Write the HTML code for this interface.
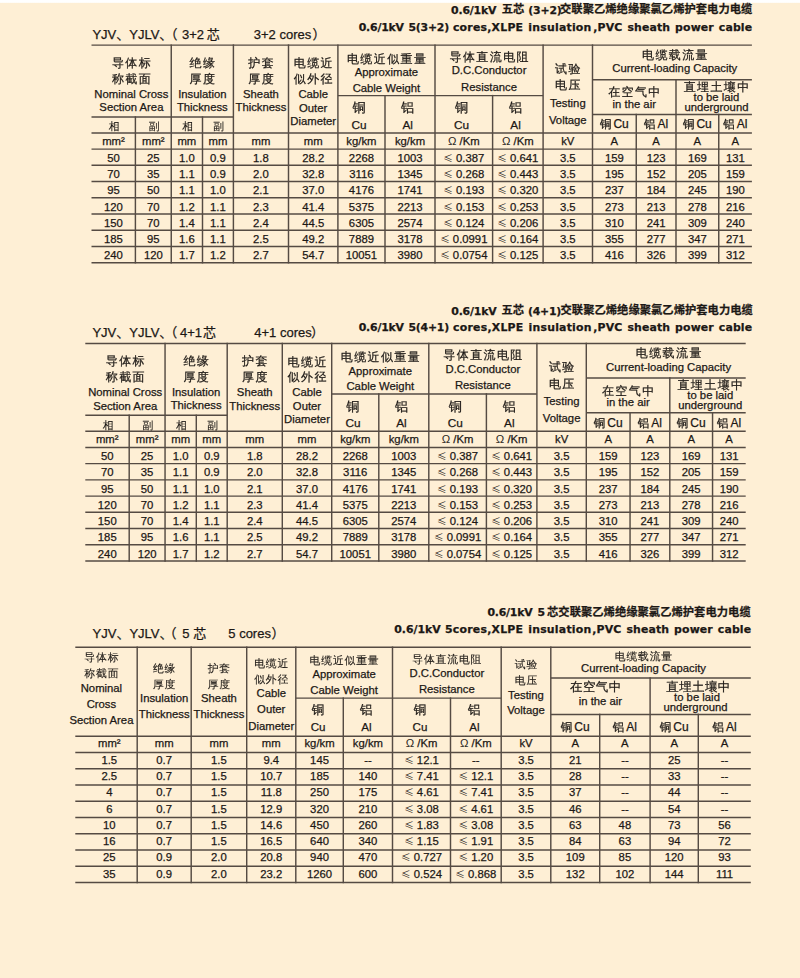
<!DOCTYPE html><html><head><meta charset="utf-8"><style>
html,body{margin:0;padding:0;}
body{width:800px;height:978px;position:relative;overflow:hidden;background:#FEEFD5;}
.top{position:absolute;left:0;top:0;width:800px;height:3px;background:linear-gradient(#fff 0,#fff 2.4px,#FEEFD5 3px);}
.t{position:absolute;line-height:0;white-space:nowrap;color:#1c1815;font-family:'Liberation Sans','Noto Sans CJK SC',sans-serif;-webkit-text-stroke:0.25px #1c1815;}
.c{text-align:center;width:300px;}
.r{text-align:right;width:600px;}
.le{font-family:'Noto Sans CJK SC',sans-serif;font-size:0.85em;-webkit-text-stroke:0;}
svg{position:absolute;left:0;top:0;}
.om{-webkit-text-stroke:0;color:#2a2622;}
.wq{font-family:'Liberation Sans','WenQuanYi Zen Hei',sans-serif;font-size:0.96em;}
</style></head><body><div class="top"></div>
<svg width="800" height="978" viewBox="0 0 800 978">
<g stroke="#554b43" stroke-width="1.45" fill="none">
<line x1="91.50" y1="45.10" x2="751.90" y2="45.10"/>
<line x1="91.50" y1="117.00" x2="233.40" y2="117.00"/>
<line x1="91.50" y1="132.90" x2="751.90" y2="132.90"/>
<line x1="337.90" y1="95.60" x2="543.10" y2="95.60"/>
<line x1="592.50" y1="79.75" x2="751.90" y2="79.75"/>
<line x1="592.50" y1="114.40" x2="751.90" y2="114.40"/>
<line x1="91.50" y1="149.10" x2="751.90" y2="149.10"/>
<line x1="91.50" y1="165.33" x2="751.90" y2="165.33"/>
<line x1="91.50" y1="181.57" x2="751.90" y2="181.57"/>
<line x1="91.50" y1="197.81" x2="751.90" y2="197.81"/>
<line x1="91.50" y1="214.04" x2="751.90" y2="214.04"/>
<line x1="91.50" y1="230.27" x2="751.90" y2="230.27"/>
<line x1="91.50" y1="246.51" x2="751.90" y2="246.51"/>
<line x1="91.50" y1="262.75" x2="751.90" y2="262.75"/>
<line x1="85.30" y1="343.40" x2="745.70" y2="343.40"/>
<line x1="85.30" y1="415.30" x2="227.20" y2="415.30"/>
<line x1="85.30" y1="431.20" x2="745.70" y2="431.20"/>
<line x1="331.70" y1="393.90" x2="536.90" y2="393.90"/>
<line x1="586.30" y1="378.05" x2="745.70" y2="378.05"/>
<line x1="586.30" y1="412.70" x2="745.70" y2="412.70"/>
<line x1="85.30" y1="447.40" x2="745.70" y2="447.40"/>
<line x1="85.30" y1="463.63" x2="745.70" y2="463.63"/>
<line x1="85.30" y1="479.87" x2="745.70" y2="479.87"/>
<line x1="85.30" y1="496.10" x2="745.70" y2="496.10"/>
<line x1="85.30" y1="512.34" x2="745.70" y2="512.34"/>
<line x1="85.30" y1="528.57" x2="745.70" y2="528.57"/>
<line x1="85.30" y1="544.81" x2="745.70" y2="544.81"/>
<line x1="85.30" y1="561.04" x2="745.70" y2="561.04"/>
<line x1="75.30" y1="647.20" x2="750.80" y2="647.20"/>
<line x1="75.30" y1="736.30" x2="750.80" y2="736.30"/>
<line x1="295.80" y1="698.10" x2="501.20" y2="698.10"/>
<line x1="550.80" y1="677.90" x2="750.80" y2="677.90"/>
<line x1="550.80" y1="714.40" x2="750.80" y2="714.40"/>
<line x1="75.30" y1="752.50" x2="750.80" y2="752.50"/>
<line x1="75.30" y1="768.75" x2="750.80" y2="768.75"/>
<line x1="75.30" y1="785.00" x2="750.80" y2="785.00"/>
<line x1="75.30" y1="801.25" x2="750.80" y2="801.25"/>
<line x1="75.30" y1="817.50" x2="750.80" y2="817.50"/>
<line x1="75.30" y1="833.75" x2="750.80" y2="833.75"/>
<line x1="75.30" y1="850.00" x2="750.80" y2="850.00"/>
<line x1="75.30" y1="866.25" x2="750.80" y2="866.25"/>
<line x1="75.30" y1="882.50" x2="750.80" y2="882.50"/>
<line x1="171.25" y1="44.38" x2="171.25" y2="263.47"/>
<line x1="135.40" y1="116.28" x2="135.40" y2="263.47"/>
<line x1="233.40" y1="44.38" x2="233.40" y2="263.47"/>
<line x1="202.50" y1="116.28" x2="202.50" y2="263.47"/>
<line x1="288.50" y1="44.38" x2="288.50" y2="263.47"/>
<line x1="337.90" y1="44.38" x2="337.90" y2="263.47"/>
<line x1="435.00" y1="44.38" x2="435.00" y2="263.47"/>
<line x1="385.00" y1="94.88" x2="385.00" y2="263.47"/>
<line x1="543.10" y1="44.38" x2="543.10" y2="263.47"/>
<line x1="492.60" y1="94.88" x2="492.60" y2="263.47"/>
<line x1="592.50" y1="44.38" x2="592.50" y2="263.47"/>
<line x1="676.00" y1="79.03" x2="676.00" y2="263.47"/>
<line x1="636.25" y1="113.68" x2="636.25" y2="263.47"/>
<line x1="718.75" y1="113.68" x2="718.75" y2="263.47"/>
<line x1="165.05" y1="342.68" x2="165.05" y2="561.77"/>
<line x1="129.20" y1="414.57" x2="129.20" y2="561.77"/>
<line x1="227.20" y1="342.68" x2="227.20" y2="561.77"/>
<line x1="196.30" y1="414.57" x2="196.30" y2="561.77"/>
<line x1="282.30" y1="342.68" x2="282.30" y2="561.77"/>
<line x1="331.70" y1="342.68" x2="331.70" y2="561.77"/>
<line x1="428.80" y1="342.68" x2="428.80" y2="561.77"/>
<line x1="378.80" y1="393.17" x2="378.80" y2="561.77"/>
<line x1="536.90" y1="342.68" x2="536.90" y2="561.77"/>
<line x1="486.40" y1="393.17" x2="486.40" y2="561.77"/>
<line x1="586.30" y1="342.68" x2="586.30" y2="561.77"/>
<line x1="669.80" y1="377.32" x2="669.80" y2="561.77"/>
<line x1="630.05" y1="411.98" x2="630.05" y2="561.77"/>
<line x1="712.55" y1="411.98" x2="712.55" y2="561.77"/>
<line x1="137.20" y1="646.48" x2="137.20" y2="883.23"/>
<line x1="191.20" y1="646.48" x2="191.20" y2="883.23"/>
<line x1="246.70" y1="646.48" x2="246.70" y2="883.23"/>
<line x1="295.80" y1="646.48" x2="295.80" y2="883.23"/>
<line x1="392.50" y1="646.48" x2="392.50" y2="883.23"/>
<line x1="343.30" y1="697.38" x2="343.30" y2="883.23"/>
<line x1="501.20" y1="646.48" x2="501.20" y2="883.23"/>
<line x1="450.50" y1="697.38" x2="450.50" y2="883.23"/>
<line x1="550.80" y1="646.48" x2="550.80" y2="883.23"/>
<line x1="650.10" y1="677.17" x2="650.10" y2="883.23"/>
<line x1="599.70" y1="713.67" x2="599.70" y2="883.23"/>
<line x1="698.30" y1="713.67" x2="698.30" y2="883.23"/>
</g></svg>
<div class="t" style="left:451.10px;top:10.52px;font-size:10.9px;font-weight:bold;font-family:'DejaVu Sans','Noto Sans CJK SC',sans-serif;word-spacing:1px;letter-spacing:-0.2px">0.6/1kV</div>
<div class="t" style="left:501.70px;top:10.38px;font-size:11.3px;font-weight:bold;font-family:'DejaVu Sans','Noto Sans CJK SC',sans-serif;word-spacing:1px;letter-spacing:0.02px">五芯</div>
<div class="t" style="left:528.30px;top:10.52px;font-size:10.9px;font-weight:bold;font-family:'DejaVu Sans','Noto Sans CJK SC',sans-serif;word-spacing:1px;letter-spacing:-0.2px">(3+2)</div>
<div class="t" style="left:560.00px;top:10.38px;font-size:11.3px;font-weight:bold;font-family:'DejaVu Sans','Noto Sans CJK SC',sans-serif;word-spacing:1px;letter-spacing:0.02px">交联聚乙烯绝缘聚氯乙烯护套电力电缆</div>
<div class="t" style="left:358.70px;top:28.02px;font-size:10.9px;font-weight:bold;font-family:'DejaVu Sans','Noto Sans CJK SC',sans-serif;word-spacing:1px;letter-spacing:-0.20px">0.6/1kV 5(3+2)</div>
<div class="t" style="left:452.90px;top:28.02px;font-size:10.9px;font-weight:bold;font-family:'DejaVu Sans','Noto Sans CJK SC',sans-serif;word-spacing:1px;letter-spacing:0.23px">cores,XLPE insulation</div>
<div class="t r" style="left:152.24px;top:28.02px;font-size:10.9px;font-weight:bold;font-family:'DejaVu Sans','Noto Sans CJK SC',sans-serif;word-spacing:1px;letter-spacing:0.14px">,PVC sheath power cable</div>
<div class="t" style="left:92.40px;top:35.35px;font-size:13px;">YJV、YJLV、</div>
<div class="t" style="left:164.50px;top:35.35px;font-size:13px;">（</div>
<div class="t" style="left:182.00px;top:35.35px;font-size:13px;">3+2</div>
<div class="t" style="left:206.80px;top:35.35px;font-size:13px;">芯</div>
<div class="t" style="left:253.80px;top:35.35px;font-size:13px;">3+2 cores</div>
<div class="t" style="left:312.50px;top:35.35px;font-size:13px;">）</div>
<div class="t c" style="left:-17.93px;top:62.92px;font-size:12.0px;font-family:'Liberation Sans','WenQuanYi Zen Hei',sans-serif;-webkit-text-stroke-width:0.22px;letter-spacing:1.40px;">导体标</div>
<div class="t c" style="left:-17.93px;top:78.82px;font-size:12.0px;font-family:'Liberation Sans','WenQuanYi Zen Hei',sans-serif;-webkit-text-stroke-width:0.22px;letter-spacing:1.40px;">称截面</div>
<div class="t c" style="left:-18.62px;top:93.88px;font-size:11.3px;">Nominal Cross</div>
<div class="t c" style="left:-18.62px;top:107.38px;font-size:11.3px;">Section Area</div>
<div class="t c" style="left:53.02px;top:62.92px;font-size:12.0px;font-family:'Liberation Sans','WenQuanYi Zen Hei',sans-serif;-webkit-text-stroke-width:0.22px;letter-spacing:1.40px;">绝缘</div>
<div class="t c" style="left:53.02px;top:78.82px;font-size:12.0px;font-family:'Liberation Sans','WenQuanYi Zen Hei',sans-serif;-webkit-text-stroke-width:0.22px;letter-spacing:1.40px;">厚度</div>
<div class="t c" style="left:52.32px;top:93.98px;font-size:11.3px;">Insulation</div>
<div class="t c" style="left:52.32px;top:107.18px;font-size:11.3px;">Thickness</div>
<div class="t c" style="left:111.65px;top:62.92px;font-size:12.0px;font-family:'Liberation Sans','WenQuanYi Zen Hei',sans-serif;-webkit-text-stroke-width:0.22px;letter-spacing:1.40px;">护套</div>
<div class="t c" style="left:111.65px;top:78.82px;font-size:12.0px;font-family:'Liberation Sans','WenQuanYi Zen Hei',sans-serif;-webkit-text-stroke-width:0.22px;letter-spacing:1.40px;">厚度</div>
<div class="t c" style="left:110.95px;top:93.98px;font-size:11.3px;">Sheath</div>
<div class="t c" style="left:110.95px;top:107.28px;font-size:11.3px;">Thickness</div>
<div class="t c" style="left:163.90px;top:63.42px;font-size:12.0px;font-family:'Liberation Sans','WenQuanYi Zen Hei',sans-serif;-webkit-text-stroke-width:0.22px;letter-spacing:1.40px;">电缆近</div>
<div class="t c" style="left:163.90px;top:78.92px;font-size:12.0px;font-family:'Liberation Sans','WenQuanYi Zen Hei',sans-serif;-webkit-text-stroke-width:0.22px;letter-spacing:1.40px;">似外径</div>
<div class="t c" style="left:163.20px;top:94.08px;font-size:11.3px;">Cable</div>
<div class="t c" style="left:163.20px;top:107.58px;font-size:11.3px;">Outer</div>
<div class="t c" style="left:163.20px;top:120.88px;font-size:11.3px;">Diameter</div>
<div class="t c" style="left:237.15px;top:58.92px;font-size:12.0px;font-family:'Liberation Sans','WenQuanYi Zen Hei',sans-serif;-webkit-text-stroke-width:0.22px;letter-spacing:1.40px;">电缆近似重量</div>
<div class="t c" style="left:236.45px;top:72.38px;font-size:11.3px;">Approximate</div>
<div class="t c" style="left:236.45px;top:88.08px;font-size:11.3px;">Cable Weight</div>
<div class="t c" style="left:339.75px;top:56.72px;font-size:12.0px;font-family:'Liberation Sans','WenQuanYi Zen Hei',sans-serif;-webkit-text-stroke-width:0.22px;letter-spacing:1.40px;">导体直流电阻</div>
<div class="t c" style="left:339.05px;top:70.48px;font-size:11.3px;">D.C.Conductor</div>
<div class="t c" style="left:339.05px;top:86.68px;font-size:11.3px;">Resistance</div>
<div class="t c" style="left:209.15px;top:108.31px;font-size:13.2px;font-family:'Liberation Sans','WenQuanYi Zen Hei',sans-serif;-webkit-text-stroke-width:0.22px;letter-spacing:0.00px;">铜</div>
<div class="t c" style="left:209.15px;top:124.51px;font-size:11.8px;">Cu</div>
<div class="t c" style="left:257.70px;top:108.31px;font-size:13.2px;font-family:'Liberation Sans','WenQuanYi Zen Hei',sans-serif;-webkit-text-stroke-width:0.22px;letter-spacing:0.00px;">铝</div>
<div class="t c" style="left:257.70px;top:124.51px;font-size:11.8px;">Al</div>
<div class="t c" style="left:311.50px;top:108.31px;font-size:13.2px;font-family:'Liberation Sans','WenQuanYi Zen Hei',sans-serif;-webkit-text-stroke-width:0.22px;letter-spacing:0.00px;">铜</div>
<div class="t c" style="left:311.50px;top:124.51px;font-size:11.8px;">Cu</div>
<div class="t c" style="left:365.55px;top:108.31px;font-size:13.2px;font-family:'Liberation Sans','WenQuanYi Zen Hei',sans-serif;-webkit-text-stroke-width:0.22px;letter-spacing:0.00px;">铝</div>
<div class="t c" style="left:365.55px;top:124.51px;font-size:11.8px;">Al</div>
<div class="t c" style="left:418.50px;top:68.92px;font-size:12.0px;font-family:'Liberation Sans','WenQuanYi Zen Hei',sans-serif;-webkit-text-stroke-width:0.22px;letter-spacing:1.40px;">试验</div>
<div class="t c" style="left:418.50px;top:85.32px;font-size:12.0px;font-family:'Liberation Sans','WenQuanYi Zen Hei',sans-serif;-webkit-text-stroke-width:0.22px;letter-spacing:1.40px;">电压</div>
<div class="t c" style="left:417.80px;top:103.08px;font-size:11.3px;">Testing</div>
<div class="t c" style="left:417.80px;top:119.88px;font-size:11.3px;">Voltage</div>
<div class="t c" style="left:525.50px;top:55.12px;font-size:12.0px;font-family:'Liberation Sans','WenQuanYi Zen Hei',sans-serif;-webkit-text-stroke-width:0.22px;letter-spacing:1.40px;">电缆载流量</div>
<div class="t c" style="left:524.80px;top:68.38px;font-size:11.3px;">Current-loading Capacity</div>
<div class="t c" style="left:484.95px;top:92.22px;font-size:12.0px;font-family:'Liberation Sans','WenQuanYi Zen Hei',sans-serif;-webkit-text-stroke-width:0.22px;letter-spacing:1.40px;">在空气中</div>
<div class="t c" style="left:484.25px;top:103.58px;font-size:11.3px;">in the air</div>
<div class="t c" style="left:567.15px;top:86.52px;font-size:12.0px;font-family:'Liberation Sans','WenQuanYi Zen Hei',sans-serif;-webkit-text-stroke-width:0.22px;letter-spacing:1.40px;">直埋土壤中</div>
<div class="t c" style="left:566.45px;top:96.68px;font-size:11.3px;">to be laid</div>
<div class="t c" style="left:566.45px;top:106.88px;font-size:11.3px;">underground</div>
<div class="t c" style="left:464.38px;top:124.24px;font-size:12px;"><span class="wq">铜</span><span style="margin-left:2px">Cu</span></div>
<div class="t c" style="left:506.12px;top:124.24px;font-size:12px;"><span class="wq">铝</span><span style="margin-left:2px">Al</span></div>
<div class="t c" style="left:547.38px;top:124.24px;font-size:12px;"><span class="wq">铜</span><span style="margin-left:2px">Cu</span></div>
<div class="t c" style="left:585.33px;top:124.24px;font-size:12px;"><span class="wq">铝</span><span style="margin-left:2px">Al</span></div>
<div class="t c" style="left:-35.75px;top:126.46px;font-size:10.8px;font-family:'Liberation Sans','WenQuanYi Zen Hei',sans-serif;-webkit-text-stroke:0.1px">相</div>
<div class="t c" style="left:4.12px;top:126.46px;font-size:10.8px;font-family:'Liberation Sans','WenQuanYi Zen Hei',sans-serif;-webkit-text-stroke:0.1px">副</div>
<div class="t c" style="left:37.68px;top:126.46px;font-size:10.8px;font-family:'Liberation Sans','WenQuanYi Zen Hei',sans-serif;-webkit-text-stroke:0.1px">相</div>
<div class="t c" style="left:68.75px;top:126.46px;font-size:10.8px;font-family:'Liberation Sans','WenQuanYi Zen Hei',sans-serif;-webkit-text-stroke:0.1px">副</div>
<div class="t c" style="left:-36.55px;top:140.78px;font-size:11.3px;">mm²</div>
<div class="t c" style="left:3.32px;top:140.78px;font-size:11.3px;">mm²</div>
<div class="t c" style="left:36.88px;top:140.78px;font-size:11.3px;">mm</div>
<div class="t c" style="left:67.95px;top:140.78px;font-size:11.3px;">mm</div>
<div class="t c" style="left:110.95px;top:140.78px;font-size:11.3px;">mm</div>
<div class="t c" style="left:163.20px;top:140.78px;font-size:11.3px;">mm</div>
<div class="t c" style="left:211.45px;top:140.78px;font-size:11.3px;">kg/km</div>
<div class="t c" style="left:260.00px;top:140.78px;font-size:11.3px;">kg/km</div>
<div class="t c" style="left:313.80px;top:140.78px;font-size:11.3px;"><span class="om">Ω</span> /Km</div>
<div class="t c" style="left:367.85px;top:140.78px;font-size:11.3px;"><span class="om">Ω</span> /Km</div>
<div class="t c" style="left:417.80px;top:140.78px;font-size:11.3px;">kV</div>
<div class="t c" style="left:464.38px;top:140.78px;font-size:11.3px;">A</div>
<div class="t c" style="left:506.12px;top:140.78px;font-size:11.3px;">A</div>
<div class="t c" style="left:547.38px;top:140.78px;font-size:11.3px;">A</div>
<div class="t c" style="left:585.33px;top:140.78px;font-size:11.3px;">A</div>
<div class="t c" style="left:-36.55px;top:157.88px;font-size:11.3px;">50</div>
<div class="t c" style="left:3.32px;top:157.88px;font-size:11.3px;">25</div>
<div class="t c" style="left:36.88px;top:157.88px;font-size:11.3px;">1.0</div>
<div class="t c" style="left:67.95px;top:157.88px;font-size:11.3px;">0.9</div>
<div class="t c" style="left:110.95px;top:157.88px;font-size:11.3px;">1.8</div>
<div class="t c" style="left:163.20px;top:157.88px;font-size:11.3px;">28.2</div>
<div class="t c" style="left:211.45px;top:157.88px;font-size:11.3px;">2268</div>
<div class="t c" style="left:260.00px;top:157.88px;font-size:11.3px;">1003</div>
<div class="t c" style="left:313.80px;top:157.88px;font-size:11.3px;"><span class="le">≤</span> 0.387</div>
<div class="t c" style="left:367.85px;top:157.88px;font-size:11.3px;"><span class="le">≤</span> 0.641</div>
<div class="t c" style="left:417.80px;top:157.88px;font-size:11.3px;">3.5</div>
<div class="t c" style="left:464.38px;top:157.88px;font-size:11.3px;">159</div>
<div class="t c" style="left:506.12px;top:157.88px;font-size:11.3px;">123</div>
<div class="t c" style="left:547.38px;top:157.88px;font-size:11.3px;">169</div>
<div class="t c" style="left:585.33px;top:157.88px;font-size:11.3px;">131</div>
<div class="t c" style="left:-36.55px;top:174.12px;font-size:11.3px;">70</div>
<div class="t c" style="left:3.32px;top:174.12px;font-size:11.3px;">35</div>
<div class="t c" style="left:36.88px;top:174.12px;font-size:11.3px;">1.1</div>
<div class="t c" style="left:67.95px;top:174.12px;font-size:11.3px;">0.9</div>
<div class="t c" style="left:110.95px;top:174.12px;font-size:11.3px;">2.0</div>
<div class="t c" style="left:163.20px;top:174.12px;font-size:11.3px;">32.8</div>
<div class="t c" style="left:211.45px;top:174.12px;font-size:11.3px;">3116</div>
<div class="t c" style="left:260.00px;top:174.12px;font-size:11.3px;">1345</div>
<div class="t c" style="left:313.80px;top:174.12px;font-size:11.3px;"><span class="le">≤</span> 0.268</div>
<div class="t c" style="left:367.85px;top:174.12px;font-size:11.3px;"><span class="le">≤</span> 0.443</div>
<div class="t c" style="left:417.80px;top:174.12px;font-size:11.3px;">3.5</div>
<div class="t c" style="left:464.38px;top:174.12px;font-size:11.3px;">195</div>
<div class="t c" style="left:506.12px;top:174.12px;font-size:11.3px;">152</div>
<div class="t c" style="left:547.38px;top:174.12px;font-size:11.3px;">205</div>
<div class="t c" style="left:585.33px;top:174.12px;font-size:11.3px;">159</div>
<div class="t c" style="left:-36.55px;top:190.35px;font-size:11.3px;">95</div>
<div class="t c" style="left:3.32px;top:190.35px;font-size:11.3px;">50</div>
<div class="t c" style="left:36.88px;top:190.35px;font-size:11.3px;">1.1</div>
<div class="t c" style="left:67.95px;top:190.35px;font-size:11.3px;">1.0</div>
<div class="t c" style="left:110.95px;top:190.35px;font-size:11.3px;">2.1</div>
<div class="t c" style="left:163.20px;top:190.35px;font-size:11.3px;">37.0</div>
<div class="t c" style="left:211.45px;top:190.35px;font-size:11.3px;">4176</div>
<div class="t c" style="left:260.00px;top:190.35px;font-size:11.3px;">1741</div>
<div class="t c" style="left:313.80px;top:190.35px;font-size:11.3px;"><span class="le">≤</span> 0.193</div>
<div class="t c" style="left:367.85px;top:190.35px;font-size:11.3px;"><span class="le">≤</span> 0.320</div>
<div class="t c" style="left:417.80px;top:190.35px;font-size:11.3px;">3.5</div>
<div class="t c" style="left:464.38px;top:190.35px;font-size:11.3px;">237</div>
<div class="t c" style="left:506.12px;top:190.35px;font-size:11.3px;">184</div>
<div class="t c" style="left:547.38px;top:190.35px;font-size:11.3px;">245</div>
<div class="t c" style="left:585.33px;top:190.35px;font-size:11.3px;">190</div>
<div class="t c" style="left:-36.55px;top:206.59px;font-size:11.3px;">120</div>
<div class="t c" style="left:3.32px;top:206.59px;font-size:11.3px;">70</div>
<div class="t c" style="left:36.88px;top:206.59px;font-size:11.3px;">1.2</div>
<div class="t c" style="left:67.95px;top:206.59px;font-size:11.3px;">1.1</div>
<div class="t c" style="left:110.95px;top:206.59px;font-size:11.3px;">2.3</div>
<div class="t c" style="left:163.20px;top:206.59px;font-size:11.3px;">41.4</div>
<div class="t c" style="left:211.45px;top:206.59px;font-size:11.3px;">5375</div>
<div class="t c" style="left:260.00px;top:206.59px;font-size:11.3px;">2213</div>
<div class="t c" style="left:313.80px;top:206.59px;font-size:11.3px;"><span class="le">≤</span> 0.153</div>
<div class="t c" style="left:367.85px;top:206.59px;font-size:11.3px;"><span class="le">≤</span> 0.253</div>
<div class="t c" style="left:417.80px;top:206.59px;font-size:11.3px;">3.5</div>
<div class="t c" style="left:464.38px;top:206.59px;font-size:11.3px;">273</div>
<div class="t c" style="left:506.12px;top:206.59px;font-size:11.3px;">213</div>
<div class="t c" style="left:547.38px;top:206.59px;font-size:11.3px;">278</div>
<div class="t c" style="left:585.33px;top:206.59px;font-size:11.3px;">216</div>
<div class="t c" style="left:-36.55px;top:222.82px;font-size:11.3px;">150</div>
<div class="t c" style="left:3.32px;top:222.82px;font-size:11.3px;">70</div>
<div class="t c" style="left:36.88px;top:222.82px;font-size:11.3px;">1.4</div>
<div class="t c" style="left:67.95px;top:222.82px;font-size:11.3px;">1.1</div>
<div class="t c" style="left:110.95px;top:222.82px;font-size:11.3px;">2.4</div>
<div class="t c" style="left:163.20px;top:222.82px;font-size:11.3px;">44.5</div>
<div class="t c" style="left:211.45px;top:222.82px;font-size:11.3px;">6305</div>
<div class="t c" style="left:260.00px;top:222.82px;font-size:11.3px;">2574</div>
<div class="t c" style="left:313.80px;top:222.82px;font-size:11.3px;"><span class="le">≤</span> 0.124</div>
<div class="t c" style="left:367.85px;top:222.82px;font-size:11.3px;"><span class="le">≤</span> 0.206</div>
<div class="t c" style="left:417.80px;top:222.82px;font-size:11.3px;">3.5</div>
<div class="t c" style="left:464.38px;top:222.82px;font-size:11.3px;">310</div>
<div class="t c" style="left:506.12px;top:222.82px;font-size:11.3px;">241</div>
<div class="t c" style="left:547.38px;top:222.82px;font-size:11.3px;">309</div>
<div class="t c" style="left:585.33px;top:222.82px;font-size:11.3px;">240</div>
<div class="t c" style="left:-36.55px;top:239.06px;font-size:11.3px;">185</div>
<div class="t c" style="left:3.32px;top:239.06px;font-size:11.3px;">95</div>
<div class="t c" style="left:36.88px;top:239.06px;font-size:11.3px;">1.6</div>
<div class="t c" style="left:67.95px;top:239.06px;font-size:11.3px;">1.1</div>
<div class="t c" style="left:110.95px;top:239.06px;font-size:11.3px;">2.5</div>
<div class="t c" style="left:163.20px;top:239.06px;font-size:11.3px;">49.2</div>
<div class="t c" style="left:211.45px;top:239.06px;font-size:11.3px;">7889</div>
<div class="t c" style="left:260.00px;top:239.06px;font-size:11.3px;">3178</div>
<div class="t c" style="left:313.80px;top:239.06px;font-size:11.3px;"><span class="le">≤</span> 0.0991</div>
<div class="t c" style="left:367.85px;top:239.06px;font-size:11.3px;"><span class="le">≤</span> 0.164</div>
<div class="t c" style="left:417.80px;top:239.06px;font-size:11.3px;">3.5</div>
<div class="t c" style="left:464.38px;top:239.06px;font-size:11.3px;">355</div>
<div class="t c" style="left:506.12px;top:239.06px;font-size:11.3px;">277</div>
<div class="t c" style="left:547.38px;top:239.06px;font-size:11.3px;">347</div>
<div class="t c" style="left:585.33px;top:239.06px;font-size:11.3px;">271</div>
<div class="t c" style="left:-36.55px;top:255.29px;font-size:11.3px;">240</div>
<div class="t c" style="left:3.32px;top:255.29px;font-size:11.3px;">120</div>
<div class="t c" style="left:36.88px;top:255.29px;font-size:11.3px;">1.7</div>
<div class="t c" style="left:67.95px;top:255.29px;font-size:11.3px;">1.2</div>
<div class="t c" style="left:110.95px;top:255.29px;font-size:11.3px;">2.7</div>
<div class="t c" style="left:163.20px;top:255.29px;font-size:11.3px;">54.7</div>
<div class="t c" style="left:211.45px;top:255.29px;font-size:11.3px;">10051</div>
<div class="t c" style="left:260.00px;top:255.29px;font-size:11.3px;">3980</div>
<div class="t c" style="left:313.80px;top:255.29px;font-size:11.3px;"><span class="le">≤</span> 0.0754</div>
<div class="t c" style="left:367.85px;top:255.29px;font-size:11.3px;"><span class="le">≤</span> 0.125</div>
<div class="t c" style="left:417.80px;top:255.29px;font-size:11.3px;">3.5</div>
<div class="t c" style="left:464.38px;top:255.29px;font-size:11.3px;">416</div>
<div class="t c" style="left:506.12px;top:255.29px;font-size:11.3px;">326</div>
<div class="t c" style="left:547.38px;top:255.29px;font-size:11.3px;">399</div>
<div class="t c" style="left:585.33px;top:255.29px;font-size:11.3px;">312</div>
<div class="t" style="left:451.30px;top:311.52px;font-size:10.9px;font-weight:bold;font-family:'DejaVu Sans','Noto Sans CJK SC',sans-serif;word-spacing:1px;letter-spacing:-0.2px">0.6/1kV</div>
<div class="t" style="left:501.50px;top:311.38px;font-size:11.3px;font-weight:bold;font-family:'DejaVu Sans','Noto Sans CJK SC',sans-serif;word-spacing:1px;letter-spacing:0.02px">五芯</div>
<div class="t" style="left:527.90px;top:311.52px;font-size:10.9px;font-weight:bold;font-family:'DejaVu Sans','Noto Sans CJK SC',sans-serif;word-spacing:1px;letter-spacing:-0.2px">(4+1)</div>
<div class="t" style="left:560.50px;top:311.38px;font-size:11.3px;font-weight:bold;font-family:'DejaVu Sans','Noto Sans CJK SC',sans-serif;word-spacing:1px;letter-spacing:0.02px">交联聚乙烯绝缘聚氯乙烯护套电力电缆</div>
<div class="t" style="left:358.70px;top:327.62px;font-size:10.9px;font-weight:bold;font-family:'DejaVu Sans','Noto Sans CJK SC',sans-serif;word-spacing:1px;letter-spacing:-0.20px">0.6/1kV 5(4+1)</div>
<div class="t" style="left:453.10px;top:327.62px;font-size:10.9px;font-weight:bold;font-family:'DejaVu Sans','Noto Sans CJK SC',sans-serif;word-spacing:1px;letter-spacing:0.23px">cores,XLPE insulation</div>
<div class="t r" style="left:152.24px;top:327.62px;font-size:10.9px;font-weight:bold;font-family:'DejaVu Sans','Noto Sans CJK SC',sans-serif;word-spacing:1px;letter-spacing:0.14px">,PVC sheath power cable</div>
<div class="t" style="left:92.40px;top:332.95px;font-size:13px;">YJV、YJLV、</div>
<div class="t" style="left:164.30px;top:332.95px;font-size:13px;">（</div>
<div class="t" style="left:180.00px;top:332.95px;font-size:13px;">4+1</div>
<div class="t" style="left:203.00px;top:332.95px;font-size:13px;">芯</div>
<div class="t" style="left:254.30px;top:332.95px;font-size:13px;">4+1 cores</div>
<div class="t" style="left:311.00px;top:332.95px;font-size:13px;">）</div>
<div class="t c" style="left:-24.12px;top:361.22px;font-size:12.0px;font-family:'Liberation Sans','WenQuanYi Zen Hei',sans-serif;-webkit-text-stroke-width:0.22px;letter-spacing:1.40px;">导体标</div>
<div class="t c" style="left:-24.12px;top:377.12px;font-size:12.0px;font-family:'Liberation Sans','WenQuanYi Zen Hei',sans-serif;-webkit-text-stroke-width:0.22px;letter-spacing:1.40px;">称截面</div>
<div class="t c" style="left:-24.82px;top:392.18px;font-size:11.3px;">Nominal Cross</div>
<div class="t c" style="left:-24.82px;top:405.68px;font-size:11.3px;">Section Area</div>
<div class="t c" style="left:46.82px;top:361.22px;font-size:12.0px;font-family:'Liberation Sans','WenQuanYi Zen Hei',sans-serif;-webkit-text-stroke-width:0.22px;letter-spacing:1.40px;">绝缘</div>
<div class="t c" style="left:46.82px;top:377.12px;font-size:12.0px;font-family:'Liberation Sans','WenQuanYi Zen Hei',sans-serif;-webkit-text-stroke-width:0.22px;letter-spacing:1.40px;">厚度</div>
<div class="t c" style="left:46.12px;top:392.28px;font-size:11.3px;">Insulation</div>
<div class="t c" style="left:46.12px;top:405.48px;font-size:11.3px;">Thickness</div>
<div class="t c" style="left:105.45px;top:361.22px;font-size:12.0px;font-family:'Liberation Sans','WenQuanYi Zen Hei',sans-serif;-webkit-text-stroke-width:0.22px;letter-spacing:1.40px;">护套</div>
<div class="t c" style="left:105.45px;top:377.12px;font-size:12.0px;font-family:'Liberation Sans','WenQuanYi Zen Hei',sans-serif;-webkit-text-stroke-width:0.22px;letter-spacing:1.40px;">厚度</div>
<div class="t c" style="left:104.75px;top:392.28px;font-size:11.3px;">Sheath</div>
<div class="t c" style="left:104.75px;top:405.58px;font-size:11.3px;">Thickness</div>
<div class="t c" style="left:157.70px;top:361.72px;font-size:12.0px;font-family:'Liberation Sans','WenQuanYi Zen Hei',sans-serif;-webkit-text-stroke-width:0.22px;letter-spacing:1.40px;">电缆近</div>
<div class="t c" style="left:157.70px;top:377.22px;font-size:12.0px;font-family:'Liberation Sans','WenQuanYi Zen Hei',sans-serif;-webkit-text-stroke-width:0.22px;letter-spacing:1.40px;">似外径</div>
<div class="t c" style="left:157.00px;top:392.38px;font-size:11.3px;">Cable</div>
<div class="t c" style="left:157.00px;top:405.88px;font-size:11.3px;">Outer</div>
<div class="t c" style="left:157.00px;top:419.18px;font-size:11.3px;">Diameter</div>
<div class="t c" style="left:230.95px;top:357.22px;font-size:12.0px;font-family:'Liberation Sans','WenQuanYi Zen Hei',sans-serif;-webkit-text-stroke-width:0.22px;letter-spacing:1.40px;">电缆近似重量</div>
<div class="t c" style="left:230.25px;top:370.68px;font-size:11.3px;">Approximate</div>
<div class="t c" style="left:230.25px;top:386.38px;font-size:11.3px;">Cable Weight</div>
<div class="t c" style="left:333.55px;top:355.02px;font-size:12.0px;font-family:'Liberation Sans','WenQuanYi Zen Hei',sans-serif;-webkit-text-stroke-width:0.22px;letter-spacing:1.40px;">导体直流电阻</div>
<div class="t c" style="left:332.85px;top:368.78px;font-size:11.3px;">D.C.Conductor</div>
<div class="t c" style="left:332.85px;top:384.98px;font-size:11.3px;">Resistance</div>
<div class="t c" style="left:202.95px;top:406.61px;font-size:13.2px;font-family:'Liberation Sans','WenQuanYi Zen Hei',sans-serif;-webkit-text-stroke-width:0.22px;letter-spacing:0.00px;">铜</div>
<div class="t c" style="left:202.95px;top:422.81px;font-size:11.8px;">Cu</div>
<div class="t c" style="left:251.50px;top:406.61px;font-size:13.2px;font-family:'Liberation Sans','WenQuanYi Zen Hei',sans-serif;-webkit-text-stroke-width:0.22px;letter-spacing:0.00px;">铝</div>
<div class="t c" style="left:251.50px;top:422.81px;font-size:11.8px;">Al</div>
<div class="t c" style="left:305.30px;top:406.61px;font-size:13.2px;font-family:'Liberation Sans','WenQuanYi Zen Hei',sans-serif;-webkit-text-stroke-width:0.22px;letter-spacing:0.00px;">铜</div>
<div class="t c" style="left:305.30px;top:422.81px;font-size:11.8px;">Cu</div>
<div class="t c" style="left:359.35px;top:406.61px;font-size:13.2px;font-family:'Liberation Sans','WenQuanYi Zen Hei',sans-serif;-webkit-text-stroke-width:0.22px;letter-spacing:0.00px;">铝</div>
<div class="t c" style="left:359.35px;top:422.81px;font-size:11.8px;">Al</div>
<div class="t c" style="left:412.30px;top:367.22px;font-size:12.0px;font-family:'Liberation Sans','WenQuanYi Zen Hei',sans-serif;-webkit-text-stroke-width:0.22px;letter-spacing:1.40px;">试验</div>
<div class="t c" style="left:412.30px;top:383.62px;font-size:12.0px;font-family:'Liberation Sans','WenQuanYi Zen Hei',sans-serif;-webkit-text-stroke-width:0.22px;letter-spacing:1.40px;">电压</div>
<div class="t c" style="left:411.60px;top:401.38px;font-size:11.3px;">Testing</div>
<div class="t c" style="left:411.60px;top:418.18px;font-size:11.3px;">Voltage</div>
<div class="t c" style="left:519.30px;top:353.42px;font-size:12.0px;font-family:'Liberation Sans','WenQuanYi Zen Hei',sans-serif;-webkit-text-stroke-width:0.22px;letter-spacing:1.40px;">电缆载流量</div>
<div class="t c" style="left:518.60px;top:366.68px;font-size:11.3px;">Current-loading Capacity</div>
<div class="t c" style="left:478.75px;top:390.52px;font-size:12.0px;font-family:'Liberation Sans','WenQuanYi Zen Hei',sans-serif;-webkit-text-stroke-width:0.22px;letter-spacing:1.40px;">在空气中</div>
<div class="t c" style="left:478.05px;top:401.88px;font-size:11.3px;">in the air</div>
<div class="t c" style="left:560.95px;top:384.82px;font-size:12.0px;font-family:'Liberation Sans','WenQuanYi Zen Hei',sans-serif;-webkit-text-stroke-width:0.22px;letter-spacing:1.40px;">直埋土壤中</div>
<div class="t c" style="left:560.25px;top:394.98px;font-size:11.3px;">to be laid</div>
<div class="t c" style="left:560.25px;top:405.18px;font-size:11.3px;">underground</div>
<div class="t c" style="left:458.17px;top:422.54px;font-size:12px;"><span class="wq">铜</span><span style="margin-left:2px">Cu</span></div>
<div class="t c" style="left:499.92px;top:422.54px;font-size:12px;"><span class="wq">铝</span><span style="margin-left:2px">Al</span></div>
<div class="t c" style="left:541.17px;top:422.54px;font-size:12px;"><span class="wq">铜</span><span style="margin-left:2px">Cu</span></div>
<div class="t c" style="left:579.12px;top:422.54px;font-size:12px;"><span class="wq">铝</span><span style="margin-left:2px">Al</span></div>
<div class="t c" style="left:-41.95px;top:424.76px;font-size:10.8px;font-family:'Liberation Sans','WenQuanYi Zen Hei',sans-serif;-webkit-text-stroke:0.1px">相</div>
<div class="t c" style="left:-2.07px;top:424.76px;font-size:10.8px;font-family:'Liberation Sans','WenQuanYi Zen Hei',sans-serif;-webkit-text-stroke:0.1px">副</div>
<div class="t c" style="left:31.48px;top:424.76px;font-size:10.8px;font-family:'Liberation Sans','WenQuanYi Zen Hei',sans-serif;-webkit-text-stroke:0.1px">相</div>
<div class="t c" style="left:62.55px;top:424.76px;font-size:10.8px;font-family:'Liberation Sans','WenQuanYi Zen Hei',sans-serif;-webkit-text-stroke:0.1px">副</div>
<div class="t c" style="left:-42.75px;top:439.08px;font-size:11.3px;">mm²</div>
<div class="t c" style="left:-2.88px;top:439.08px;font-size:11.3px;">mm²</div>
<div class="t c" style="left:30.68px;top:439.08px;font-size:11.3px;">mm</div>
<div class="t c" style="left:61.75px;top:439.08px;font-size:11.3px;">mm</div>
<div class="t c" style="left:104.75px;top:439.08px;font-size:11.3px;">mm</div>
<div class="t c" style="left:157.00px;top:439.08px;font-size:11.3px;">mm</div>
<div class="t c" style="left:205.25px;top:439.08px;font-size:11.3px;">kg/km</div>
<div class="t c" style="left:253.80px;top:439.08px;font-size:11.3px;">kg/km</div>
<div class="t c" style="left:307.60px;top:439.08px;font-size:11.3px;"><span class="om">Ω</span> /Km</div>
<div class="t c" style="left:361.65px;top:439.08px;font-size:11.3px;"><span class="om">Ω</span> /Km</div>
<div class="t c" style="left:411.60px;top:439.08px;font-size:11.3px;">kV</div>
<div class="t c" style="left:458.17px;top:439.08px;font-size:11.3px;">A</div>
<div class="t c" style="left:499.92px;top:439.08px;font-size:11.3px;">A</div>
<div class="t c" style="left:541.17px;top:439.08px;font-size:11.3px;">A</div>
<div class="t c" style="left:579.12px;top:439.08px;font-size:11.3px;">A</div>
<div class="t c" style="left:-42.75px;top:456.18px;font-size:11.3px;">50</div>
<div class="t c" style="left:-2.88px;top:456.18px;font-size:11.3px;">25</div>
<div class="t c" style="left:30.68px;top:456.18px;font-size:11.3px;">1.0</div>
<div class="t c" style="left:61.75px;top:456.18px;font-size:11.3px;">0.9</div>
<div class="t c" style="left:104.75px;top:456.18px;font-size:11.3px;">1.8</div>
<div class="t c" style="left:157.00px;top:456.18px;font-size:11.3px;">28.2</div>
<div class="t c" style="left:205.25px;top:456.18px;font-size:11.3px;">2268</div>
<div class="t c" style="left:253.80px;top:456.18px;font-size:11.3px;">1003</div>
<div class="t c" style="left:307.60px;top:456.18px;font-size:11.3px;"><span class="le">≤</span> 0.387</div>
<div class="t c" style="left:361.65px;top:456.18px;font-size:11.3px;"><span class="le">≤</span> 0.641</div>
<div class="t c" style="left:411.60px;top:456.18px;font-size:11.3px;">3.5</div>
<div class="t c" style="left:458.17px;top:456.18px;font-size:11.3px;">159</div>
<div class="t c" style="left:499.92px;top:456.18px;font-size:11.3px;">123</div>
<div class="t c" style="left:541.17px;top:456.18px;font-size:11.3px;">169</div>
<div class="t c" style="left:579.12px;top:456.18px;font-size:11.3px;">131</div>
<div class="t c" style="left:-42.75px;top:472.42px;font-size:11.3px;">70</div>
<div class="t c" style="left:-2.88px;top:472.42px;font-size:11.3px;">35</div>
<div class="t c" style="left:30.68px;top:472.42px;font-size:11.3px;">1.1</div>
<div class="t c" style="left:61.75px;top:472.42px;font-size:11.3px;">0.9</div>
<div class="t c" style="left:104.75px;top:472.42px;font-size:11.3px;">2.0</div>
<div class="t c" style="left:157.00px;top:472.42px;font-size:11.3px;">32.8</div>
<div class="t c" style="left:205.25px;top:472.42px;font-size:11.3px;">3116</div>
<div class="t c" style="left:253.80px;top:472.42px;font-size:11.3px;">1345</div>
<div class="t c" style="left:307.60px;top:472.42px;font-size:11.3px;"><span class="le">≤</span> 0.268</div>
<div class="t c" style="left:361.65px;top:472.42px;font-size:11.3px;"><span class="le">≤</span> 0.443</div>
<div class="t c" style="left:411.60px;top:472.42px;font-size:11.3px;">3.5</div>
<div class="t c" style="left:458.17px;top:472.42px;font-size:11.3px;">195</div>
<div class="t c" style="left:499.92px;top:472.42px;font-size:11.3px;">152</div>
<div class="t c" style="left:541.17px;top:472.42px;font-size:11.3px;">205</div>
<div class="t c" style="left:579.12px;top:472.42px;font-size:11.3px;">159</div>
<div class="t c" style="left:-42.75px;top:488.65px;font-size:11.3px;">95</div>
<div class="t c" style="left:-2.88px;top:488.65px;font-size:11.3px;">50</div>
<div class="t c" style="left:30.68px;top:488.65px;font-size:11.3px;">1.1</div>
<div class="t c" style="left:61.75px;top:488.65px;font-size:11.3px;">1.0</div>
<div class="t c" style="left:104.75px;top:488.65px;font-size:11.3px;">2.1</div>
<div class="t c" style="left:157.00px;top:488.65px;font-size:11.3px;">37.0</div>
<div class="t c" style="left:205.25px;top:488.65px;font-size:11.3px;">4176</div>
<div class="t c" style="left:253.80px;top:488.65px;font-size:11.3px;">1741</div>
<div class="t c" style="left:307.60px;top:488.65px;font-size:11.3px;"><span class="le">≤</span> 0.193</div>
<div class="t c" style="left:361.65px;top:488.65px;font-size:11.3px;"><span class="le">≤</span> 0.320</div>
<div class="t c" style="left:411.60px;top:488.65px;font-size:11.3px;">3.5</div>
<div class="t c" style="left:458.17px;top:488.65px;font-size:11.3px;">237</div>
<div class="t c" style="left:499.92px;top:488.65px;font-size:11.3px;">184</div>
<div class="t c" style="left:541.17px;top:488.65px;font-size:11.3px;">245</div>
<div class="t c" style="left:579.12px;top:488.65px;font-size:11.3px;">190</div>
<div class="t c" style="left:-42.75px;top:504.89px;font-size:11.3px;">120</div>
<div class="t c" style="left:-2.88px;top:504.89px;font-size:11.3px;">70</div>
<div class="t c" style="left:30.68px;top:504.89px;font-size:11.3px;">1.2</div>
<div class="t c" style="left:61.75px;top:504.89px;font-size:11.3px;">1.1</div>
<div class="t c" style="left:104.75px;top:504.89px;font-size:11.3px;">2.3</div>
<div class="t c" style="left:157.00px;top:504.89px;font-size:11.3px;">41.4</div>
<div class="t c" style="left:205.25px;top:504.89px;font-size:11.3px;">5375</div>
<div class="t c" style="left:253.80px;top:504.89px;font-size:11.3px;">2213</div>
<div class="t c" style="left:307.60px;top:504.89px;font-size:11.3px;"><span class="le">≤</span> 0.153</div>
<div class="t c" style="left:361.65px;top:504.89px;font-size:11.3px;"><span class="le">≤</span> 0.253</div>
<div class="t c" style="left:411.60px;top:504.89px;font-size:11.3px;">3.5</div>
<div class="t c" style="left:458.17px;top:504.89px;font-size:11.3px;">273</div>
<div class="t c" style="left:499.92px;top:504.89px;font-size:11.3px;">213</div>
<div class="t c" style="left:541.17px;top:504.89px;font-size:11.3px;">278</div>
<div class="t c" style="left:579.12px;top:504.89px;font-size:11.3px;">216</div>
<div class="t c" style="left:-42.75px;top:521.12px;font-size:11.3px;">150</div>
<div class="t c" style="left:-2.88px;top:521.12px;font-size:11.3px;">70</div>
<div class="t c" style="left:30.68px;top:521.12px;font-size:11.3px;">1.4</div>
<div class="t c" style="left:61.75px;top:521.12px;font-size:11.3px;">1.1</div>
<div class="t c" style="left:104.75px;top:521.12px;font-size:11.3px;">2.4</div>
<div class="t c" style="left:157.00px;top:521.12px;font-size:11.3px;">44.5</div>
<div class="t c" style="left:205.25px;top:521.12px;font-size:11.3px;">6305</div>
<div class="t c" style="left:253.80px;top:521.12px;font-size:11.3px;">2574</div>
<div class="t c" style="left:307.60px;top:521.12px;font-size:11.3px;"><span class="le">≤</span> 0.124</div>
<div class="t c" style="left:361.65px;top:521.12px;font-size:11.3px;"><span class="le">≤</span> 0.206</div>
<div class="t c" style="left:411.60px;top:521.12px;font-size:11.3px;">3.5</div>
<div class="t c" style="left:458.17px;top:521.12px;font-size:11.3px;">310</div>
<div class="t c" style="left:499.92px;top:521.12px;font-size:11.3px;">241</div>
<div class="t c" style="left:541.17px;top:521.12px;font-size:11.3px;">309</div>
<div class="t c" style="left:579.12px;top:521.12px;font-size:11.3px;">240</div>
<div class="t c" style="left:-42.75px;top:537.36px;font-size:11.3px;">185</div>
<div class="t c" style="left:-2.88px;top:537.36px;font-size:11.3px;">95</div>
<div class="t c" style="left:30.68px;top:537.36px;font-size:11.3px;">1.6</div>
<div class="t c" style="left:61.75px;top:537.36px;font-size:11.3px;">1.1</div>
<div class="t c" style="left:104.75px;top:537.36px;font-size:11.3px;">2.5</div>
<div class="t c" style="left:157.00px;top:537.36px;font-size:11.3px;">49.2</div>
<div class="t c" style="left:205.25px;top:537.36px;font-size:11.3px;">7889</div>
<div class="t c" style="left:253.80px;top:537.36px;font-size:11.3px;">3178</div>
<div class="t c" style="left:307.60px;top:537.36px;font-size:11.3px;"><span class="le">≤</span> 0.0991</div>
<div class="t c" style="left:361.65px;top:537.36px;font-size:11.3px;"><span class="le">≤</span> 0.164</div>
<div class="t c" style="left:411.60px;top:537.36px;font-size:11.3px;">3.5</div>
<div class="t c" style="left:458.17px;top:537.36px;font-size:11.3px;">355</div>
<div class="t c" style="left:499.92px;top:537.36px;font-size:11.3px;">277</div>
<div class="t c" style="left:541.17px;top:537.36px;font-size:11.3px;">347</div>
<div class="t c" style="left:579.12px;top:537.36px;font-size:11.3px;">271</div>
<div class="t c" style="left:-42.75px;top:553.59px;font-size:11.3px;">240</div>
<div class="t c" style="left:-2.88px;top:553.59px;font-size:11.3px;">120</div>
<div class="t c" style="left:30.68px;top:553.59px;font-size:11.3px;">1.7</div>
<div class="t c" style="left:61.75px;top:553.59px;font-size:11.3px;">1.2</div>
<div class="t c" style="left:104.75px;top:553.59px;font-size:11.3px;">2.7</div>
<div class="t c" style="left:157.00px;top:553.59px;font-size:11.3px;">54.7</div>
<div class="t c" style="left:205.25px;top:553.59px;font-size:11.3px;">10051</div>
<div class="t c" style="left:253.80px;top:553.59px;font-size:11.3px;">3980</div>
<div class="t c" style="left:307.60px;top:553.59px;font-size:11.3px;"><span class="le">≤</span> 0.0754</div>
<div class="t c" style="left:361.65px;top:553.59px;font-size:11.3px;"><span class="le">≤</span> 0.125</div>
<div class="t c" style="left:411.60px;top:553.59px;font-size:11.3px;">3.5</div>
<div class="t c" style="left:458.17px;top:553.59px;font-size:11.3px;">416</div>
<div class="t c" style="left:499.92px;top:553.59px;font-size:11.3px;">326</div>
<div class="t c" style="left:541.17px;top:553.59px;font-size:11.3px;">399</div>
<div class="t c" style="left:579.12px;top:553.59px;font-size:11.3px;">312</div>
<div class="t" style="left:487.40px;top:612.82px;font-size:10.9px;font-weight:bold;font-family:'DejaVu Sans','Noto Sans CJK SC',sans-serif;word-spacing:1px;letter-spacing:-0.2px">0.6/1kV</div>
<div class="t" style="left:537.40px;top:612.82px;font-size:10.9px;font-weight:bold;font-family:'DejaVu Sans','Noto Sans CJK SC',sans-serif;word-spacing:1px;letter-spacing:-0.2px">5</div>
<div class="t" style="left:547.00px;top:612.68px;font-size:11.3px;font-weight:bold;font-family:'DejaVu Sans','Noto Sans CJK SC',sans-serif;word-spacing:1px;letter-spacing:0.02px">芯交联聚乙烯绝缘聚氯乙烯护套电力电缆</div>
<div class="t" style="left:394.20px;top:630.02px;font-size:10.9px;font-weight:bold;font-family:'DejaVu Sans','Noto Sans CJK SC',sans-serif;word-spacing:1px;letter-spacing:0.00px">0.6/1kV</div>
<div class="t" style="left:445.00px;top:630.02px;font-size:10.9px;font-weight:bold;font-family:'DejaVu Sans','Noto Sans CJK SC',sans-serif;word-spacing:1px;letter-spacing:0.23px">5cores,XLPE insulation</div>
<div class="t r" style="left:151.24px;top:630.02px;font-size:10.9px;font-weight:bold;font-family:'DejaVu Sans','Noto Sans CJK SC',sans-serif;word-spacing:1px;letter-spacing:0.14px">,PVC sheath power cable</div>
<div class="t" style="left:92.60px;top:633.50px;font-size:13px;">YJV、YJLV、</div>
<div class="t" style="left:163.40px;top:633.50px;font-size:13px;">（</div>
<div class="t" style="left:182.20px;top:633.50px;font-size:13px;">5</div>
<div class="t" style="left:193.20px;top:633.50px;font-size:13px;">芯</div>
<div class="t" style="left:228.30px;top:633.50px;font-size:13px;">5 cores</div>
<div class="t" style="left:271.60px;top:633.50px;font-size:13px;">）</div>
<div class="t c" style="left:-48.17px;top:656.53px;font-size:10.8px;font-family:'Liberation Sans','WenQuanYi Zen Hei',sans-serif;-webkit-text-stroke-width:0.22px;letter-spacing:0.85px;-webkit-text-stroke-width:0.12px">导体标</div>
<div class="t c" style="left:-48.17px;top:672.93px;font-size:10.8px;font-family:'Liberation Sans','WenQuanYi Zen Hei',sans-serif;-webkit-text-stroke-width:0.22px;letter-spacing:0.85px;-webkit-text-stroke-width:0.12px">称截面</div>
<div class="t c" style="left:-48.60px;top:688.08px;font-size:11.3px;">Nominal</div>
<div class="t c" style="left:-48.60px;top:704.48px;font-size:11.3px;">Cross</div>
<div class="t c" style="left:-48.60px;top:720.48px;font-size:11.3px;">Section Area</div>
<div class="t c" style="left:14.62px;top:668.23px;font-size:10.8px;font-family:'Liberation Sans','WenQuanYi Zen Hei',sans-serif;-webkit-text-stroke-width:0.22px;letter-spacing:0.85px;-webkit-text-stroke-width:0.12px">绝缘</div>
<div class="t c" style="left:14.62px;top:683.93px;font-size:10.8px;font-family:'Liberation Sans','WenQuanYi Zen Hei',sans-serif;-webkit-text-stroke-width:0.22px;letter-spacing:0.85px;-webkit-text-stroke-width:0.12px">厚度</div>
<div class="t c" style="left:69.38px;top:668.23px;font-size:10.8px;font-family:'Liberation Sans','WenQuanYi Zen Hei',sans-serif;-webkit-text-stroke-width:0.22px;letter-spacing:0.85px;-webkit-text-stroke-width:0.12px">护套</div>
<div class="t c" style="left:69.38px;top:683.93px;font-size:10.8px;font-family:'Liberation Sans','WenQuanYi Zen Hei',sans-serif;-webkit-text-stroke-width:0.22px;letter-spacing:0.85px;-webkit-text-stroke-width:0.12px">厚度</div>
<div class="t c" style="left:14.20px;top:698.28px;font-size:11.3px;">Insulation</div>
<div class="t c" style="left:14.20px;top:714.48px;font-size:11.3px;">Thickness</div>
<div class="t c" style="left:68.95px;top:698.28px;font-size:11.3px;">Sheath</div>
<div class="t c" style="left:68.95px;top:714.48px;font-size:11.3px;">Thickness</div>
<div class="t c" style="left:121.68px;top:663.23px;font-size:10.8px;font-family:'Liberation Sans','WenQuanYi Zen Hei',sans-serif;-webkit-text-stroke-width:0.22px;letter-spacing:0.85px;-webkit-text-stroke-width:0.12px">电缆近</div>
<div class="t c" style="left:121.68px;top:678.93px;font-size:10.8px;font-family:'Liberation Sans','WenQuanYi Zen Hei',sans-serif;-webkit-text-stroke-width:0.22px;letter-spacing:0.85px;-webkit-text-stroke-width:0.12px">似外径</div>
<div class="t c" style="left:121.25px;top:693.28px;font-size:11.3px;">Cable</div>
<div class="t c" style="left:121.25px;top:709.48px;font-size:11.3px;">Outer</div>
<div class="t c" style="left:121.25px;top:725.88px;font-size:11.3px;">Diameter</div>
<div class="t c" style="left:194.57px;top:659.63px;font-size:10.8px;font-family:'Liberation Sans','WenQuanYi Zen Hei',sans-serif;-webkit-text-stroke-width:0.22px;letter-spacing:0.85px;-webkit-text-stroke-width:0.12px">电缆近似重量</div>
<div class="t c" style="left:194.15px;top:673.58px;font-size:11.3px;">Approximate</div>
<div class="t c" style="left:194.15px;top:689.68px;font-size:11.3px;">Cable Weight</div>
<div class="t c" style="left:297.28px;top:658.93px;font-size:10.8px;font-family:'Liberation Sans','WenQuanYi Zen Hei',sans-serif;-webkit-text-stroke-width:0.22px;letter-spacing:0.85px;-webkit-text-stroke-width:0.12px">导体直流电阻</div>
<div class="t c" style="left:296.85px;top:672.58px;font-size:11.3px;">D.C.Conductor</div>
<div class="t c" style="left:296.85px;top:688.68px;font-size:11.3px;">Resistance</div>
<div class="t c" style="left:168.05px;top:710.02px;font-size:12.6px;font-family:'Liberation Sans','WenQuanYi Zen Hei',sans-serif;-webkit-text-stroke-width:0.22px;letter-spacing:0.00px;">铜</div>
<div class="t c" style="left:168.05px;top:726.88px;font-size:11.6px;">Cu</div>
<div class="t c" style="left:216.40px;top:710.02px;font-size:12.6px;font-family:'Liberation Sans','WenQuanYi Zen Hei',sans-serif;-webkit-text-stroke-width:0.22px;letter-spacing:0.00px;">铝</div>
<div class="t c" style="left:216.40px;top:726.88px;font-size:11.6px;">Al</div>
<div class="t c" style="left:270.00px;top:710.02px;font-size:12.6px;font-family:'Liberation Sans','WenQuanYi Zen Hei',sans-serif;-webkit-text-stroke-width:0.22px;letter-spacing:0.00px;">铜</div>
<div class="t c" style="left:270.00px;top:726.88px;font-size:11.6px;">Cu</div>
<div class="t c" style="left:324.35px;top:710.02px;font-size:12.6px;font-family:'Liberation Sans','WenQuanYi Zen Hei',sans-serif;-webkit-text-stroke-width:0.22px;letter-spacing:0.00px;">铝</div>
<div class="t c" style="left:324.35px;top:726.88px;font-size:11.6px;">Al</div>
<div class="t c" style="left:376.42px;top:663.93px;font-size:10.8px;font-family:'Liberation Sans','WenQuanYi Zen Hei',sans-serif;-webkit-text-stroke-width:0.22px;letter-spacing:0.85px;-webkit-text-stroke-width:0.12px">试验</div>
<div class="t c" style="left:376.42px;top:679.63px;font-size:10.8px;font-family:'Liberation Sans','WenQuanYi Zen Hei',sans-serif;-webkit-text-stroke-width:0.22px;letter-spacing:0.85px;-webkit-text-stroke-width:0.12px">电压</div>
<div class="t c" style="left:376.00px;top:694.78px;font-size:11.3px;">Testing</div>
<div class="t c" style="left:376.00px;top:710.48px;font-size:11.3px;">Voltage</div>
<div class="t c" style="left:493.92px;top:655.53px;font-size:10.8px;font-family:'Liberation Sans','WenQuanYi Zen Hei',sans-serif;-webkit-text-stroke-width:0.22px;letter-spacing:0.85px;-webkit-text-stroke-width:0.12px">电缆载流量</div>
<div class="t c" style="left:493.50px;top:668.48px;font-size:11.3px;">Current-loading Capacity</div>
<div class="t c" style="left:445.80px;top:686.97px;font-size:12.5px;font-family:'Liberation Sans','WenQuanYi Zen Hei',sans-serif;-webkit-text-stroke-width:0.22px;letter-spacing:0.40px;">在空气中</div>
<div class="t c" style="left:450.45px;top:701.18px;font-size:11.3px;">in the air</div>
<div class="t c" style="left:548.50px;top:686.97px;font-size:12.5px;font-family:'Liberation Sans','WenQuanYi Zen Hei',sans-serif;-webkit-text-stroke-width:0.22px;letter-spacing:0.40px;">直埋土壤中</div>
<div class="t c" style="left:547.00px;top:696.98px;font-size:11.3px;">to be laid</div>
<div class="t c" style="left:545.50px;top:706.98px;font-size:11.3px;">underground</div>
<div class="t c" style="left:425.25px;top:726.64px;font-size:12px;"><span class="wq">铜</span><span style="margin-left:2px">Cu</span></div>
<div class="t c" style="left:474.90px;top:726.64px;font-size:12px;"><span class="wq">铝</span><span style="margin-left:2px">Al</span></div>
<div class="t c" style="left:524.20px;top:726.64px;font-size:12px;"><span class="wq">铜</span><span style="margin-left:2px">Cu</span></div>
<div class="t c" style="left:574.55px;top:726.64px;font-size:12px;"><span class="wq">铝</span><span style="margin-left:2px">Al</span></div>
<div class="t c" style="left:-40.70px;top:742.88px;font-size:11.3px;">mm²</div>
<div class="t c" style="left:14.20px;top:742.88px;font-size:11.3px;">mm</div>
<div class="t c" style="left:68.95px;top:742.88px;font-size:11.3px;">mm</div>
<div class="t c" style="left:121.25px;top:742.88px;font-size:11.3px;">mm</div>
<div class="t c" style="left:169.55px;top:742.88px;font-size:11.3px;">kg/km</div>
<div class="t c" style="left:217.90px;top:742.88px;font-size:11.3px;">kg/km</div>
<div class="t c" style="left:271.50px;top:742.88px;font-size:11.3px;"><span class="om">Ω</span> /Km</div>
<div class="t c" style="left:325.85px;top:742.88px;font-size:11.3px;"><span class="om">Ω</span> /Km</div>
<div class="t c" style="left:376.00px;top:742.88px;font-size:11.3px;">kV</div>
<div class="t c" style="left:425.25px;top:742.88px;font-size:11.3px;">A</div>
<div class="t c" style="left:474.90px;top:742.88px;font-size:11.3px;">A</div>
<div class="t c" style="left:524.20px;top:742.88px;font-size:11.3px;">A</div>
<div class="t c" style="left:574.55px;top:742.88px;font-size:11.3px;">A</div>
<div class="t c" style="left:-40.70px;top:759.78px;font-size:11.3px;">1.5</div>
<div class="t c" style="left:14.20px;top:759.78px;font-size:11.3px;">0.7</div>
<div class="t c" style="left:68.95px;top:759.78px;font-size:11.3px;">1.5</div>
<div class="t c" style="left:121.25px;top:759.78px;font-size:11.3px;">9.4</div>
<div class="t c" style="left:169.55px;top:759.78px;font-size:11.3px;">145</div>
<div class="t c" style="left:217.90px;top:759.78px;font-size:11.3px;">--</div>
<div class="t c" style="left:271.50px;top:759.78px;font-size:11.3px;"><span class="le">≤</span> 12.1</div>
<div class="t c" style="left:325.85px;top:759.78px;font-size:11.3px;">--</div>
<div class="t c" style="left:376.00px;top:759.78px;font-size:11.3px;">3.5</div>
<div class="t c" style="left:425.25px;top:759.78px;font-size:11.3px;">21</div>
<div class="t c" style="left:474.90px;top:759.78px;font-size:11.3px;">--</div>
<div class="t c" style="left:524.20px;top:759.78px;font-size:11.3px;">25</div>
<div class="t c" style="left:574.55px;top:759.78px;font-size:11.3px;">--</div>
<div class="t c" style="left:-40.70px;top:776.03px;font-size:11.3px;">2.5</div>
<div class="t c" style="left:14.20px;top:776.03px;font-size:11.3px;">0.7</div>
<div class="t c" style="left:68.95px;top:776.03px;font-size:11.3px;">1.5</div>
<div class="t c" style="left:121.25px;top:776.03px;font-size:11.3px;">10.7</div>
<div class="t c" style="left:169.55px;top:776.03px;font-size:11.3px;">185</div>
<div class="t c" style="left:217.90px;top:776.03px;font-size:11.3px;">140</div>
<div class="t c" style="left:271.50px;top:776.03px;font-size:11.3px;"><span class="le">≤</span> 7.41</div>
<div class="t c" style="left:325.85px;top:776.03px;font-size:11.3px;"><span class="le">≤</span> 12.1</div>
<div class="t c" style="left:376.00px;top:776.03px;font-size:11.3px;">3.5</div>
<div class="t c" style="left:425.25px;top:776.03px;font-size:11.3px;">28</div>
<div class="t c" style="left:474.90px;top:776.03px;font-size:11.3px;">--</div>
<div class="t c" style="left:524.20px;top:776.03px;font-size:11.3px;">33</div>
<div class="t c" style="left:574.55px;top:776.03px;font-size:11.3px;">--</div>
<div class="t c" style="left:-40.70px;top:792.28px;font-size:11.3px;">4</div>
<div class="t c" style="left:14.20px;top:792.28px;font-size:11.3px;">0.7</div>
<div class="t c" style="left:68.95px;top:792.28px;font-size:11.3px;">1.5</div>
<div class="t c" style="left:121.25px;top:792.28px;font-size:11.3px;">11.8</div>
<div class="t c" style="left:169.55px;top:792.28px;font-size:11.3px;">250</div>
<div class="t c" style="left:217.90px;top:792.28px;font-size:11.3px;">175</div>
<div class="t c" style="left:271.50px;top:792.28px;font-size:11.3px;"><span class="le">≤</span> 4.61</div>
<div class="t c" style="left:325.85px;top:792.28px;font-size:11.3px;"><span class="le">≤</span> 7.41</div>
<div class="t c" style="left:376.00px;top:792.28px;font-size:11.3px;">3.5</div>
<div class="t c" style="left:425.25px;top:792.28px;font-size:11.3px;">37</div>
<div class="t c" style="left:474.90px;top:792.28px;font-size:11.3px;">--</div>
<div class="t c" style="left:524.20px;top:792.28px;font-size:11.3px;">44</div>
<div class="t c" style="left:574.55px;top:792.28px;font-size:11.3px;">--</div>
<div class="t c" style="left:-40.70px;top:808.53px;font-size:11.3px;">6</div>
<div class="t c" style="left:14.20px;top:808.53px;font-size:11.3px;">0.7</div>
<div class="t c" style="left:68.95px;top:808.53px;font-size:11.3px;">1.5</div>
<div class="t c" style="left:121.25px;top:808.53px;font-size:11.3px;">12.9</div>
<div class="t c" style="left:169.55px;top:808.53px;font-size:11.3px;">320</div>
<div class="t c" style="left:217.90px;top:808.53px;font-size:11.3px;">210</div>
<div class="t c" style="left:271.50px;top:808.53px;font-size:11.3px;"><span class="le">≤</span> 3.08</div>
<div class="t c" style="left:325.85px;top:808.53px;font-size:11.3px;"><span class="le">≤</span> 4.61</div>
<div class="t c" style="left:376.00px;top:808.53px;font-size:11.3px;">3.5</div>
<div class="t c" style="left:425.25px;top:808.53px;font-size:11.3px;">46</div>
<div class="t c" style="left:474.90px;top:808.53px;font-size:11.3px;">--</div>
<div class="t c" style="left:524.20px;top:808.53px;font-size:11.3px;">54</div>
<div class="t c" style="left:574.55px;top:808.53px;font-size:11.3px;">--</div>
<div class="t c" style="left:-40.70px;top:824.78px;font-size:11.3px;">10</div>
<div class="t c" style="left:14.20px;top:824.78px;font-size:11.3px;">0.7</div>
<div class="t c" style="left:68.95px;top:824.78px;font-size:11.3px;">1.5</div>
<div class="t c" style="left:121.25px;top:824.78px;font-size:11.3px;">14.6</div>
<div class="t c" style="left:169.55px;top:824.78px;font-size:11.3px;">450</div>
<div class="t c" style="left:217.90px;top:824.78px;font-size:11.3px;">260</div>
<div class="t c" style="left:271.50px;top:824.78px;font-size:11.3px;"><span class="le">≤</span> 1.83</div>
<div class="t c" style="left:325.85px;top:824.78px;font-size:11.3px;"><span class="le">≤</span> 3.08</div>
<div class="t c" style="left:376.00px;top:824.78px;font-size:11.3px;">3.5</div>
<div class="t c" style="left:425.25px;top:824.78px;font-size:11.3px;">63</div>
<div class="t c" style="left:474.90px;top:824.78px;font-size:11.3px;">48</div>
<div class="t c" style="left:524.20px;top:824.78px;font-size:11.3px;">73</div>
<div class="t c" style="left:574.55px;top:824.78px;font-size:11.3px;">56</div>
<div class="t c" style="left:-40.70px;top:841.03px;font-size:11.3px;">16</div>
<div class="t c" style="left:14.20px;top:841.03px;font-size:11.3px;">0.7</div>
<div class="t c" style="left:68.95px;top:841.03px;font-size:11.3px;">1.5</div>
<div class="t c" style="left:121.25px;top:841.03px;font-size:11.3px;">16.5</div>
<div class="t c" style="left:169.55px;top:841.03px;font-size:11.3px;">640</div>
<div class="t c" style="left:217.90px;top:841.03px;font-size:11.3px;">340</div>
<div class="t c" style="left:271.50px;top:841.03px;font-size:11.3px;"><span class="le">≤</span> 1.15</div>
<div class="t c" style="left:325.85px;top:841.03px;font-size:11.3px;"><span class="le">≤</span> 1.91</div>
<div class="t c" style="left:376.00px;top:841.03px;font-size:11.3px;">3.5</div>
<div class="t c" style="left:425.25px;top:841.03px;font-size:11.3px;">84</div>
<div class="t c" style="left:474.90px;top:841.03px;font-size:11.3px;">63</div>
<div class="t c" style="left:524.20px;top:841.03px;font-size:11.3px;">94</div>
<div class="t c" style="left:574.55px;top:841.03px;font-size:11.3px;">72</div>
<div class="t c" style="left:-40.70px;top:857.28px;font-size:11.3px;">25</div>
<div class="t c" style="left:14.20px;top:857.28px;font-size:11.3px;">0.9</div>
<div class="t c" style="left:68.95px;top:857.28px;font-size:11.3px;">2.0</div>
<div class="t c" style="left:121.25px;top:857.28px;font-size:11.3px;">20.8</div>
<div class="t c" style="left:169.55px;top:857.28px;font-size:11.3px;">940</div>
<div class="t c" style="left:217.90px;top:857.28px;font-size:11.3px;">470</div>
<div class="t c" style="left:271.50px;top:857.28px;font-size:11.3px;"><span class="le">≤</span> 0.727</div>
<div class="t c" style="left:325.85px;top:857.28px;font-size:11.3px;"><span class="le">≤</span> 1.20</div>
<div class="t c" style="left:376.00px;top:857.28px;font-size:11.3px;">3.5</div>
<div class="t c" style="left:425.25px;top:857.28px;font-size:11.3px;">109</div>
<div class="t c" style="left:474.90px;top:857.28px;font-size:11.3px;">85</div>
<div class="t c" style="left:524.20px;top:857.28px;font-size:11.3px;">120</div>
<div class="t c" style="left:574.55px;top:857.28px;font-size:11.3px;">93</div>
<div class="t c" style="left:-40.70px;top:873.53px;font-size:11.3px;">35</div>
<div class="t c" style="left:14.20px;top:873.53px;font-size:11.3px;">0.9</div>
<div class="t c" style="left:68.95px;top:873.53px;font-size:11.3px;">2.0</div>
<div class="t c" style="left:121.25px;top:873.53px;font-size:11.3px;">23.2</div>
<div class="t c" style="left:169.55px;top:873.53px;font-size:11.3px;">1260</div>
<div class="t c" style="left:217.90px;top:873.53px;font-size:11.3px;">600</div>
<div class="t c" style="left:271.50px;top:873.53px;font-size:11.3px;"><span class="le">≤</span> 0.524</div>
<div class="t c" style="left:325.85px;top:873.53px;font-size:11.3px;"><span class="le">≤</span> 0.868</div>
<div class="t c" style="left:376.00px;top:873.53px;font-size:11.3px;">3.5</div>
<div class="t c" style="left:425.25px;top:873.53px;font-size:11.3px;">132</div>
<div class="t c" style="left:474.90px;top:873.53px;font-size:11.3px;">102</div>
<div class="t c" style="left:524.20px;top:873.53px;font-size:11.3px;">144</div>
<div class="t c" style="left:574.55px;top:873.53px;font-size:11.3px;">111</div>
</body></html>
